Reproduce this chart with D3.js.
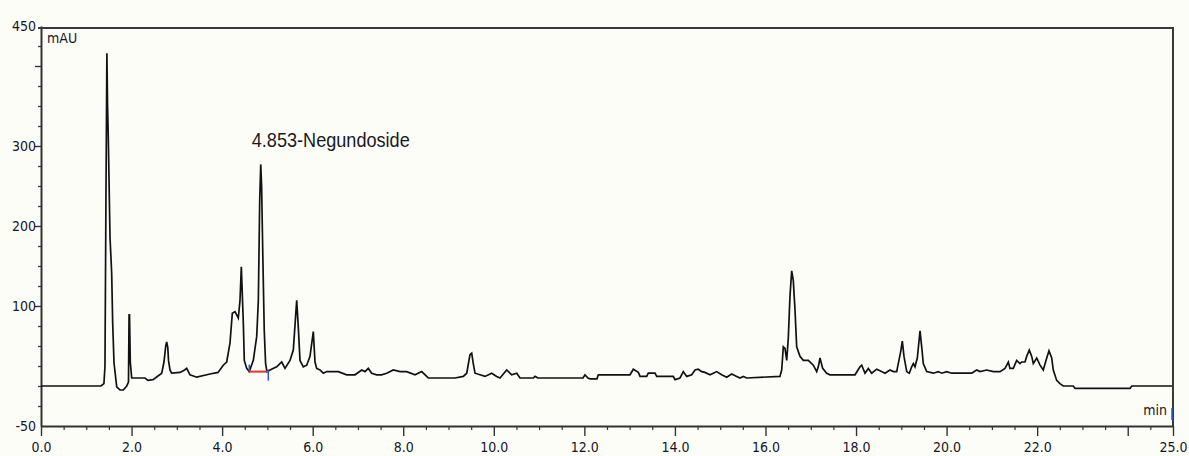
<!DOCTYPE html>
<html>
<head>
<meta charset="utf-8">
<title>Chromatogram</title>
<script src="https://cdn.jsdelivr.net/npm/d3@7"></script>
<style>
  html, body { margin: 0; padding: 0; background: #fdfdf8; }
  #chart { width: 1189px; height: 456px; }
  .tick-label { font-family: "DejaVu Sans Condensed", "Liberation Sans", Arial, sans-serif; font-size: 14px; fill: #15152a; }
  .axis path, .axis line { stroke: #333; }
</style>
</head>
<body>
<div id="chart"></div>
<script>
"use strict";

// retention time (min)
const rtMin = [
  0, 1.325, 1.39, 1.413, 1.436, 1.455, 1.47, 1.486, 1.524, 1.561, 1.583, 1.612,
  1.672, 1.745, 1.818, 1.893, 1.932, 1.945, 1.955, 1.972, 2.003, 2.297, 2.363,
  2.473, 2.621, 2.666, 2.716, 2.755, 2.776, 2.8, 2.816, 2.849, 2.886, 3.07,
  3.17, 3.218, 3.291, 3.439, 3.732, 3.909, 4.026, 4.101, 4.174, 4.225, 4.284,
  4.357, 4.395, 4.424, 4.468, 4.49, 4.543, 4.6, 4.689, 4.764, 4.8, 4.83,
  4.853, 4.872, 4.9, 4.93, 4.96, 4.991, 5.057, 5.205, 5.316, 5.389, 5.499,
  5.572, 5.647, 5.682, 5.72, 5.793, 5.868, 5.941, 6.014, 6.051, 6.089, 6.162,
  6.235, 6.31, 6.566, 6.751, 6.935, 7.083, 7.155, 7.228, 7.303, 7.414, 7.52,
  7.635, 7.78, 7.929, 8.076, 8.26, 8.408, 8.518, 8.554, 8.885, 9.143, 9.327,
  9.402, 9.474, 9.512, 9.547, 9.585, 9.695, 9.806, 9.954, 10.064, 10.137,
  10.285, 10.395, 10.506, 10.579, 10.872, 10.91, 10.976, 11.462, 11.97,
  12.014, 12.08, 12.125, 12.279, 12.308, 13.008, 13.081, 13.192, 13.229,
  13.377, 13.412, 13.56, 13.598, 13.964, 14.002, 14.112, 14.185, 14.26,
  14.371, 14.444, 14.516, 14.591, 14.664, 14.775, 14.848, 14.923, 15.033,
  15.143, 15.254, 15.364, 15.437, 15.51, 15.585, 16.32, 16.358, 16.394,
  16.431, 16.469, 16.504, 16.541, 16.579, 16.614, 16.652, 16.689, 16.762,
  16.835, 16.946, 17.056, 17.131, 17.167, 17.204, 17.263, 17.352, 17.425,
  17.977, 18.087, 18.125, 18.198, 18.271, 18.346, 18.456, 18.529, 18.64,
  18.75, 18.823, 18.898, 18.933, 18.986, 19.022, 19.059, 19.119, 19.176,
  19.229, 19.265, 19.302, 19.353, 19.413, 19.457, 19.485, 19.561, 19.706,
  19.817, 19.892, 20.002, 20.113, 20.554, 20.665, 20.738, 20.886, 21.032,
  21.18, 21.29, 21.363, 21.4, 21.473, 21.548, 21.621, 21.658, 21.731, 21.769,
  21.826, 21.88, 21.915, 21.99, 22.063, 22.135, 22.211, 22.261, 22.321,
  22.356, 22.431, 22.504, 22.577, 22.798, 22.836, 24.051, 24.088, 24.978
];

// detector signal (mAU)
const signalMAU = [
  0, 0, 3, 25, 250, 416, 350, 311, 186, 141, 79, 29,
  -1, -5, -5, 0, 5, 89, 89, 30, 10, 10, 7,
  8, 14, 16, 30, 50, 55, 48, 32, 20, 16, 17,
  20, 22, 14, 11, 15, 17, 26, 30, 54, 91, 93,
  85, 107, 149, 79, 32, 22, 18, 32, 62, 107, 232,
  277, 250, 160, 70, 28, 18, 20, 24, 30, 22, 32,
  45, 107, 74, 32, 24, 26, 37, 68, 30, 22, 20,
  16, 18, 18, 14, 14, 20, 18, 22, 16, 14, 14,
  16, 20, 18, 18, 14, 18, 12, 10, 10, 10, 12,
  16, 39, 41, 28, 16, 14, 12, 16, 12, 10,
  20, 14, 16, 10, 10, 12, 10, 10, 10,
  14, 10, 9, 9, 14, 14, 21, 17, 12,
  12, 16, 16, 12, 12, 8, 10, 18, 12,
  14, 20, 21, 18, 17, 14, 16, 18, 14,
  11, 15, 12, 10, 12, 10, 12, 20, 49,
  47, 32, 60, 112, 144, 132, 95, 49, 37,
  32, 32, 26, 18, 24, 35, 22, 16, 14,
  14, 24, 26, 16, 22, 16, 21, 19, 16,
  20, 18, 18, 28, 43, 56, 37, 18, 16,
  24, 28, 24, 35, 69, 45, 28, 18, 16,
  18, 16, 18, 16, 16, 20, 18, 20, 18,
  18, 22, 30, 22, 22, 32, 28, 30, 30, 37,
  45, 37, 28, 35, 26, 20, 35, 44, 35,
  20, 7, 3, 0, 0, -3, -3, 0, 0
];

const xMajorTicks = [0, 2, 4, 6, 8, 10, 12, 14, 16, 18, 20, 22, 24, 25];
const xTickLabels = ["0.0", "2.0", "4.0", "6.0", "8.0", "10.0", "12.0", "14.0", "16.0", "18.0", "20.0", "22.0", "", "25.0"];
const yMajorTicks = [100, 200, 300, 400];
const yLabelValues = [-50, 100, 200, 300, 450];

// integration baseline of the labelled peak
const peakName = "4.853-Negundoside";
const peakApex = [4.853, 277];
const peakBaseStart = [4.6, 18];
const peakBaseEnd = [5.02, 18];

window.addEventListener("load", function () {
  draw();
});

function draw() {
  const w = 1189;
  const h = 456;
  const left = 41;
  const right = 1173;
  const top = 26;
  const bottom = 426;

  const xScale = d3.scaleLinear().domain([0, 25]).range([left, right]);
  const yScale = d3.scaleLinear().domain([-50, 450]).range([bottom, top]);

  const svg = d3
    .select("#chart")
    .append("svg")
    .attr("width", w)
    .attr("height", h)
    .style("font-family", "DejaVu Sans Condensed, Liberation Sans, Arial, sans-serif");

  svg.append("rect").attr("width", w).attr("height", h).attr("fill", "#fdfdf8");

  // x axis: minor every 0.5 min, major every 2 min
  const xMinor = d3.range(0, 25.01, 0.5).filter((v) => xMajorTicks.indexOf(v) < 0);
  svg
    .append("g")
    .attr("class", "axis")
    .attr("transform", `translate(0, ${bottom})`)
    .call(d3.axisBottom(xScale).tickValues(xMinor).tickSize(4).tickFormat(""))
    .call((g) => g.select(".domain").remove())
    .selectAll("line")
    .attr("stroke-width", 1.2);

  svg
    .append("g")
    .attr("class", "axis")
    .attr("transform", `translate(0, ${bottom})`)
    .call(
      d3
        .axisBottom(xScale)
        .tickValues(xMajorTicks)
        .tickSize(10)
        .tickSizeOuter(0)
        .tickFormat((v, i) => xTickLabels[i])
    )
    .call((g) => g.select(".domain").attr("stroke-width", 2))
    .call((g) => g.selectAll("line").attr("stroke-width", 1.4))
    .call((g) =>
      g
        .selectAll("text")
        .attr("class", "tick-label")
        .attr("y", 0)
        .attr("dy", 26)
    );

  // y axis: minor every 25, major every 100
  const yMinor = d3.range(-25, 450, 25).filter((v) => yMajorTicks.indexOf(v) < 0);
  svg
    .append("g")
    .attr("class", "axis")
    .attr("transform", `translate(${left}, 0)`)
    .call(d3.axisLeft(yScale).tickValues(yMinor).tickSize(3).tickFormat(""))
    .call((g) => g.select(".domain").remove())
    .selectAll("line")
    .attr("stroke-width", 1.2);

  svg
    .append("g")
    .attr("class", "axis")
    .attr("transform", `translate(${left}, 0)`)
    .call(d3.axisLeft(yScale).tickValues(yMajorTicks).tickSize(6).tickSizeOuter(0).tickFormat(""))
    .call((g) => g.select(".domain").attr("stroke-width", 2))
    .selectAll("line")
    .attr("stroke-width", 1.4);

  svg
    .selectAll(".y-label")
    .data(yLabelValues)
    .enter()
    .append("text")
    .attr("class", "tick-label")
    .attr("x", left - 5)
    .attr("y", (v) => yScale(v))
    .attr("dy", "0.36em")
    .attr("text-anchor", "end")
    .text((v) => v);

  // frame top and right
  svg
    .append("path")
    .attr("d", `M${left - 3},${yScale(450) + 2}H${right}V${bottom}`)
    .attr("fill", "none")
    .attr("stroke", "#3a3a3a")
    .attr("stroke-width", 2);

  svg
    .append("text")
    .attr("x", left + 6)
    .attr("y", 43)
    .attr("font-size", 14)
    .attr("fill", "#15152a")
    .text("mAU");

  svg
    .append("text")
    .attr("x", right - 6)
    .attr("y", 415)
    .attr("font-size", 14)
    .attr("text-anchor", "end")
    .attr("fill", "#15152a")
    .text("min");

  svg
    .append("line")
    .attr("x1", right - 1)
    .attr("x2", right - 1)
    .attr("y1", 408)
    .attr("y2", 420)
    .attr("stroke", "#2a55d0")
    .attr("stroke-width", 1.5);

  // chromatogram trace
  const points = rtMin.map((t, i) => [t, signalMAU[i]]);
  const line = d3
    .line()
    .x((d) => xScale(d[0]))
    .y((d) => yScale(d[1]));

  svg
    .append("path")
    .datum(points)
    .attr("d", line)
    .attr("fill", "none")
    .attr("stroke", "#111")
    .attr("stroke-width", 1.7)
    .attr("stroke-linejoin", "miter");

  // integration baseline and markers
  svg
    .append("line")
    .attr("x1", xScale(peakBaseStart[0]))
    .attr("x2", xScale(peakBaseEnd[0]))
    .attr("y1", yScale(peakBaseStart[1]))
    .attr("y2", yScale(peakBaseEnd[1]))
    .attr("stroke", "#e8302a")
    .attr("stroke-width", 2);

  svg
    .append("line")
    .attr("x1", xScale(peakBaseStart[0]))
    .attr("x2", xScale(peakBaseStart[0]))
    .attr("y1", yScale(peakBaseStart[1]) - 7)
    .attr("y2", yScale(peakBaseStart[1]) + 1)
    .attr("stroke", "#2a55d0")
    .attr("stroke-width", 1.5);

  svg
    .append("line")
    .attr("x1", xScale(peakBaseEnd[0]))
    .attr("x2", xScale(peakBaseEnd[0]))
    .attr("y1", yScale(peakBaseEnd[1]) - 2)
    .attr("y2", yScale(peakBaseEnd[1]) + 9)
    .attr("stroke", "#2a55d0")
    .attr("stroke-width", 1.5);

  svg
    .append("text")
    .attr("x", xScale(peakApex[0]) - 9)
    .attr("y", yScale(peakApex[1]) - 17)
    .attr("font-family", "Liberation Sans Narrow, Liberation Sans, Arial, sans-serif")
    .attr("font-size", 21)
    .attr("textLength", 158)
    .attr("lengthAdjust", "spacingAndGlyphs")
    .attr("fill", "#1a1a1a")
    .text(peakName);
}
</script>
</body>
</html>
